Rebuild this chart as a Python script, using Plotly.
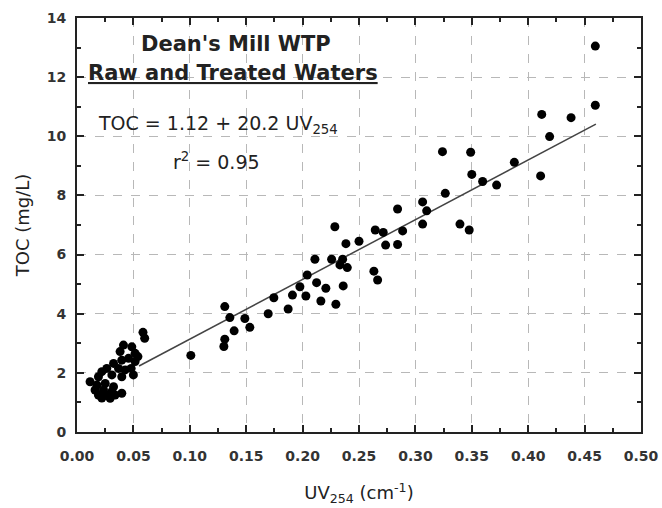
import plotly.graph_objects as go

# UV254 (cm-1) and TOC (mg/L)
uv254 = [
    0.4595, 0.4595, 0.412, 0.438, 0.419, 0.411,
    0.324, 0.349, 0.3877, 0.350, 0.3596, 0.372, 0.3265, 0.3064, 0.310, 0.3064,
    0.2842, 0.2887, 0.3395, 0.3477,
    0.2644, 0.2715, 0.2736, 0.2842, 0.250, 0.2384, 0.2286,
    0.2109, 0.2257, 0.2355, 0.2331, 0.2396, 0.2041, 0.2632, 0.2665, 0.1976,
    0.2124, 0.2206, 0.236, 0.1745, 0.191, 0.2029, 0.2162, 0.2295, 0.1872, 0.1695,
    0.131, 0.1355, 0.1488, 0.1532, 0.1393, 0.131, 0.1302, 0.1009,
    0.0585, 0.060,
    0.0412, 0.0486, 0.0382, 0.0515, 0.0457, 0.0397, 0.0515, 0.050, 0.048, 0.054,
    0.0324, 0.0264, 0.0368, 0.0427, 0.022, 0.0309, 0.019, 0.0397,
    0.0116, 0.0176, 0.025, 0.016, 0.0235, 0.0324, 0.019, 0.0264, 0.0338, 0.0397,
    0.0309, 0.0294, 0.022,
]
toc = [
    13.05, 11.05, 10.74, 10.63, 9.99, 8.66,
    9.48, 9.46, 9.12, 8.71, 8.47, 8.35, 8.07, 7.78, 7.48, 7.03,
    7.54, 6.80, 7.03, 6.83,
    6.83, 6.75, 6.32, 6.34, 6.45, 6.37, 6.94,
    5.84, 5.84, 5.84, 5.65, 5.56, 5.31, 5.44, 5.14, 4.91,
    5.05, 4.86, 4.94, 4.54, 4.63, 4.60, 4.43, 4.32, 4.16, 4.00,
    4.24, 3.87, 3.84, 3.54, 3.42, 3.14, 2.89, 2.59,
    3.37, 3.17,
    2.94, 2.88, 2.72, 2.66, 2.49, 2.43, 2.38, 1.93, 2.15, 2.55,
    2.32, 2.15, 2.15, 2.10, 2.04, 1.93, 1.87, 1.87,
    1.70, 1.59, 1.64, 1.42, 1.42, 1.53, 1.25, 1.25, 1.25, 1.31,
    1.36, 1.14, 1.15,
]

# Regression: TOC = 1.12 + 20.2 UV254
intercept = 1.12
slope = 20.2
fit_x = [0.055, 0.46]
fit_y = [intercept + slope * v for v in fit_x]

x_ticks = [0.00, 0.05, 0.10, 0.15, 0.20, 0.25, 0.30, 0.35, 0.40, 0.45, 0.50]
y_ticks = [0, 2, 4, 6, 8, 10, 12, 14]

fig = go.Figure()
fig.add_trace(go.Scatter(x=fit_x, y=fit_y, mode="lines",
                         line=dict(color="#444444", width=1.5), showlegend=False))
fig.add_trace(go.Scatter(x=uv254, y=toc, mode="markers",
                         marker=dict(color="black", size=9), showlegend=False))

axis_common = dict(
    showline=True, linecolor="#222222", linewidth=2, mirror="ticks",
    ticks="inside", ticklen=7, tickwidth=2, tickcolor="#222222",
    showgrid=True, gridcolor="#b8b8b8", griddash="dash", gridwidth=1,
    zeroline=False, automargin=False,
    tickfont=dict(family="DejaVu Sans", size=14, color="#333333", weight="bold"),
)

fig.update_xaxes(
    range=[0, 0.5], tickvals=x_ticks, ticktext=[f"{v:.2f}" for v in x_ticks],
    minor=dict(tickvals=[v + 0.025 for v in x_ticks[:-1]], ticks="inside", ticklen=4,
               tickwidth=1.5, tickcolor="#222222", showgrid=False),
    title=dict(text="UV<sub>254</sub> (cm<sup>-1</sup>)",
               font=dict(family="DejaVu Sans", size=18, color="#222222"), standoff=24),
    ticklabelstandoff=10,
    **axis_common,
)
fig.update_yaxes(
    range=[0, 14], tickvals=y_ticks,
    minor=dict(tickvals=[v + 1 for v in y_ticks[:-1]], ticks="inside", ticklen=4,
               tickwidth=1.5, tickcolor="#222222", showgrid=False),
    title=dict(text="TOC (mg/L)",
               font=dict(family="DejaVu Sans", size=18, color="#222222"), standoff=12),
    ticklabelstandoff=6,
    **axis_common,
)

def px_to_paper(px, py):
    return (px - 77) / 564, (432 - py) / 414

annots = [
    ("<b>Dean's Mill WTP</b>", 236, 44, 21),
    ("<b><u>Raw and Treated Waters</u></b>", 233, 73, 21),
    ("TOC = 1.12 + 20.2 UV<sub>254</sub>", 218, 124, 19),
    ("r<sup>2</sup> = 0.95", 216, 161, 19),
]
for txt, px, py, sz in annots:
    xp, yp = px_to_paper(px, py)
    fig.add_annotation(text=txt, x=xp, y=yp, xref="paper", yref="paper",
                       xanchor="center", yanchor="middle", showarrow=False,
                       font=dict(family="DejaVu Sans", size=sz, color="#222222"))

fig.update_layout(
    width=662, height=508,
    margin=dict(l=77, r=21, t=18, b=76),
    paper_bgcolor="white", plot_bgcolor="white",
)

fig.write_html("out.html")
